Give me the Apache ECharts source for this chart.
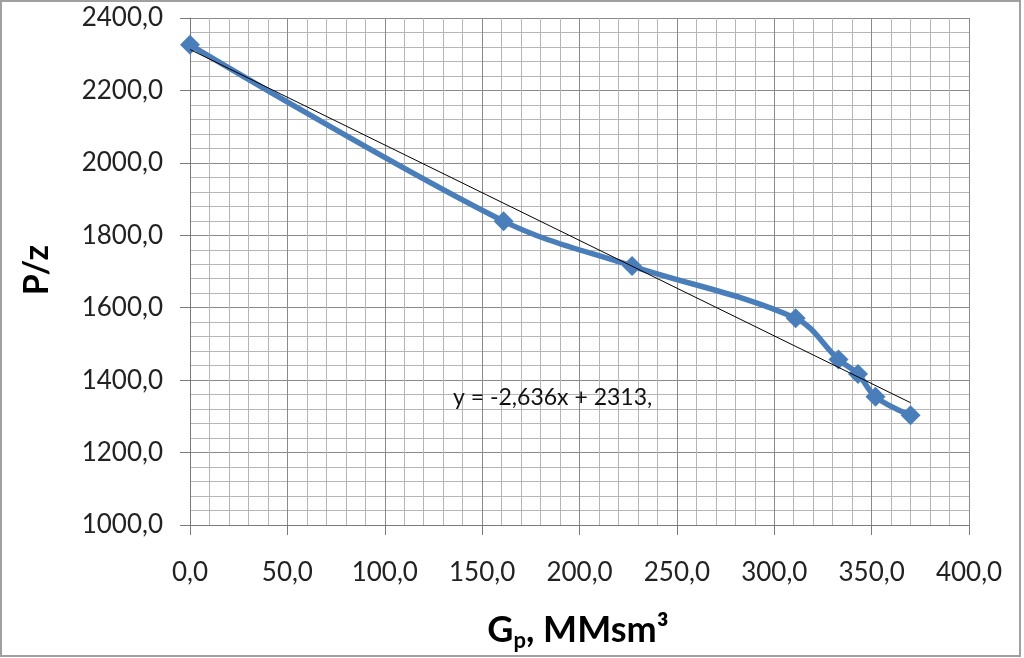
<!DOCTYPE html>
<html>
<head>
<meta charset="utf-8">
<script src="https://cdn.jsdelivr.net/npm/echarts@6/dist/echarts.min.js"></script>
<style>
html,body{margin:0;padding:0;background:#fff;}
#chart{width:1024px;height:658px;}
</style>
</head>
<body>
<div id="chart"></div>
<script>
// Data
var gp = [0, 161, 227, 311, 333, 343, 352, 370];
var pz = [2326, 1839, 1715, 1571, 1457, 1417, 1354, 1303];
// Linear trend line y = -2.636x + 2313 (end points)
var trendX = [0, 370];
var trendY = [2313, 1337.7];
var equationText = 'y = -2,636x + 2313,';
var xTitle = '{a|G}{b|p}{a|, MMsm³}';
var yTitle = 'P/z';

var mainData = gp.map(function (x, i) { return [x, pz[i]]; });
var trendData = trendX.map(function (x, i) { return [x, trendY[i]]; });

function fmt(v) { return v.toFixed(1).replace('.', ','); }

var chart = echarts.init(document.getElementById('chart'));
var FONT = 'Lato';
chart.setOption({
  animation: false,
  backgroundColor: '#fff',
  grid: { left: 190, right: 55, top: 18, bottom: 133 },
  xAxis: {
    type: 'value', min: 0, max: 400, interval: 50,
    axisLine: { show: true, lineStyle: { color: '#7a7a7a', width: 1 } },
    axisTick: { show: true, length: 10, lineStyle: { color: '#7a7a7a' } },
    axisLabel: { formatter: fmt, fontFamily: FONT, fontSize: 26, color: '#222', margin: 35 },
    splitLine: { show: true, lineStyle: { color: '#8a8a8a', width: 1 } },
    minorTick: { show: false, splitNumber: 5 },
    minorSplitLine: { show: true, lineStyle: { color: '#b6b6b6', width: 1 } }
  },
  yAxis: {
    type: 'value', min: 1000, max: 2400, interval: 200,
    axisLine: { show: true, lineStyle: { color: '#7a7a7a', width: 1 } },
    axisTick: { show: true, length: 10, lineStyle: { color: '#7a7a7a' } },
    axisLabel: { formatter: fmt, fontFamily: FONT, fontSize: 26, color: '#222', margin: 27 },
    splitLine: { show: true, lineStyle: { color: '#8a8a8a', width: 1 } },
    minorTick: { show: false, splitNumber: 5 },
    minorSplitLine: { show: true, lineStyle: { color: '#b6b6b6', width: 1 } }
  },
  series: [
    {
      type: 'line', data: mainData, smooth: 0.35,
      symbol: 'diamond', symbolSize: 20,
      lineStyle: { color: '#4a7ebb', width: 5.5 },
      itemStyle: { color: '#4a7ebb' },
      z: 3
    },
    {
      type: 'line', data: trendData, symbol: 'none',
      lineStyle: { color: '#000', width: 1 },
      z: 4
    }
  ],
  graphic: [
    { type: 'rect', shape: { x: 1, y: 1, width: 1019, height: 655 },
      style: { fill: 'none', stroke: '#a0a0a0', lineWidth: 2 }, z: 100 },
    { type: 'text', x: 453, y: 398,
      style: { text: equationText, font: '23px ' + FONT, fill: '#111', verticalAlign: 'middle' }, z: 50 },
    { type: 'text', x: 37, y: 270, rotation: Math.PI / 2,
      style: { text: yTitle, font: 'bold 34px ' + FONT, fill: '#000', align: 'center', verticalAlign: 'middle' }, z: 50 },
    { type: 'text', x: 578, y: 630,
      style: {
        text: xTitle, align: 'center', verticalAlign: 'middle', fill: '#000',
        rich: {
          a: { fontFamily: FONT, fontWeight: 'bold', fontSize: 36, lineHeight: 44, fill: '#000', verticalAlign: 'middle' },
          b: { fontFamily: FONT, fontWeight: 'bold', fontSize: 22, lineHeight: 22, fill: '#000', verticalAlign: 'bottom' }
        }
      }, z: 50 }
  ]
});
</script>
</body>
</html>
